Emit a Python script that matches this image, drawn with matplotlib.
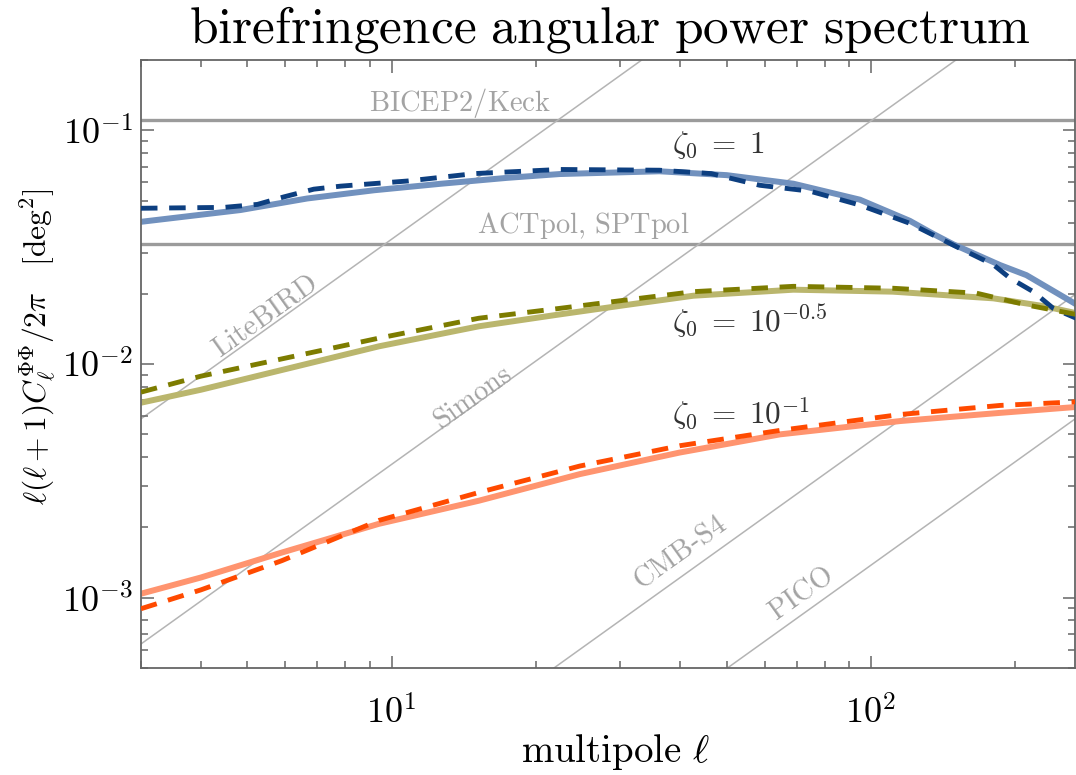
import numpy as np
import matplotlib
matplotlib.use("Agg")
import matplotlib.pyplot as plt
from matplotlib import ticker

plt.rcParams['mathtext.fontset'] = 'cm'
plt.rcParams['font.family'] = ['DejaVu Serif']

# ---- data ----
ell_blue_solid = [3, 4.84, 6.67, 9.19, 12.7, 17.4, 22.4, 36.2, 50, 68.9, 94.8, 120.5, 135, 148.6, 186, 211, 268]
cl_blue_solid = [0.0406, 0.0456, 0.0511, 0.0554, 0.0591, 0.0626, 0.0650, 0.0668, 0.0643, 0.0591, 0.0505,
                 0.0410, 0.0360, 0.0325, 0.0265, 0.0240, 0.0180]

ell_blue_dash = [3, 4.47, 5.25, 5.96, 6.88, 7.83, 10.8, 14.9, 22.4, 36.2, 46.4, 58.6, 74.6, 94.8, 120.5,
                 153, 180, 195, 218, 240, 268]
cl_blue_dash = [0.0464, 0.0468, 0.0482, 0.0519, 0.0560, 0.0577, 0.0607, 0.0653, 0.0680, 0.0675, 0.0653,
                0.0582, 0.0549, 0.0479, 0.0400, 0.0313, 0.0266, 0.0233, 0.0204, 0.0173, 0.0157]

ell_olive_solid = [3, 4.0, 9.4, 15.2, 22.4, 30.9, 42.6, 68.9, 111, 180, 229, 268]
cl_olive_solid = [0.00683, 0.00776, 0.0119, 0.0145, 0.0163, 0.0179, 0.0196, 0.0208, 0.0204, 0.0191, 0.0177,
                  0.0165]

ell_olive_dash = [3, 4.0, 9.4, 15.2, 22.4, 30.9, 42.6, 68.9, 111, 166, 211, 268]
cl_olive_dash = [0.00758, 0.00887, 0.0129, 0.0157, 0.0173, 0.0188, 0.0204, 0.0215, 0.0211, 0.0201, 0.0179,
                 0.0163]

ell_orange_solid = [3, 4.0, 5.9, 9.4, 15.2, 24.7, 39.9, 64.6, 115, 186, 268]
cl_orange_solid = [0.00104, 0.00122, 0.00156, 0.00207, 0.0026, 0.00338, 0.00418, 0.0050, 0.0057, 0.00618,
                   0.00655]

ell_orange_dash = [3, 4.0, 5.9, 9.4, 15.2, 24.7, 39.9, 64.6, 115, 186, 268]
cl_orange_dash = [0.000897, 0.00108, 0.00144, 0.00214, 0.00282, 0.00366, 0.00447, 0.0052, 0.00608, 0.00665,
                  0.00689]

# experimental limits
bicep_level = 0.111
act_level = 0.0325
# noise power laws: amplitude at ell = 10, slope in log-log
noise_names = ['LiteBIRD', 'Simons', 'CMB-S4', 'PICO']
noise_amp10 = [0.0342, 0.00372, 0.000159, 0.0000467]
noise_slope = 1.47

fig = plt.figure(figsize=(10.76, 7.75), dpi=100)
ax = fig.add_axes([0.131, 0.138, 0.8685, 0.7846])
ax.set_xscale('log')
ax.set_yscale('log')
ax.set_xlim(3, 267)
ax.set_ylim(5e-4, 0.2)

gray_h = '#9b9b9b'
gray_d = '#b4b4b4'
ax.axhline(bicep_level, color=gray_h, lw=2.4, zorder=1)
ax.axhline(act_level, color=gray_h, lw=2.4, zorder=1)

ll = np.logspace(np.log10(2), np.log10(400), 50)
for a in noise_amp10:
    ax.plot(ll, a * (ll / 10.0) ** noise_slope, color=gray_d, lw=1.1, zorder=1)

ds = (3.4, 2.4)
ax.plot(ell_blue_solid, cl_blue_solid, color='#7191be', lw=4.3, zorder=2)
ax.plot(ell_blue_dash, cl_blue_dash, color='#0d3f80', lw=3.5, dashes=ds, zorder=3)
ax.plot(ell_olive_solid, cl_olive_solid, color='#bab66d', lw=4.3, zorder=2)
ax.plot(ell_olive_dash, cl_olive_dash, color='#7d7c00', lw=3.5, dashes=ds, zorder=3)
ax.plot(ell_orange_solid, cl_orange_solid, color='#ff946f', lw=4.3, zorder=2)
ax.plot(ell_orange_dash, cl_orange_dash, color='#ff4a00', lw=3.5, dashes=ds, zorder=3)

lab_col = '#a3a3a3'
lfs = 20.5
ax.text(13.9, 0.131, r'$\mathrm{BICEP2/Keck}$', color=lab_col, fontsize=lfs, ha='center', va='center')
ax.text(25.1, 0.0392, r'$\mathrm{ACTpol,\,SPTpol}$', color=lab_col, fontsize=lfs, ha='center', va='center')
rot = 35.5
ax.text(5.46, 0.016, r'$\mathrm{LiteBIRD}$', color=lab_col, fontsize=lfs, ha='center', va='center', rotation=rot)
ax.text(14.8, 0.00715, r'$\mathrm{Simons}$', color=lab_col, fontsize=lfs, ha='center', va='center', rotation=rot)
ax.text(39.9, 0.00156, r'$\mathrm{CMB}$-$\mathrm{S4}$', color=lab_col, fontsize=lfs, ha='center', va='center', rotation=rot)
ax.text(71.5, 0.00104, r'$\mathrm{PICO}$', color=lab_col, fontsize=lfs, ha='center', va='center', rotation=rot)

txt_col = '#333333'
ax.text(38.5, 0.0865, r'$\zeta_0\;=\;1$', color=txt_col, fontsize=22.5, ha='left', va='center')
ax.text(38.5, 0.0152, r'$\zeta_0\;=\;10^{-0.5}$', color=txt_col, fontsize=22.5, ha='left', va='center')
ax.text(38.5, 0.0061, r'$\zeta_0\;=\;10^{-1}$', color=txt_col, fontsize=22.5, ha='left', va='center')

fig.text(0.567, 0.962, r'$\mathrm{birefringence\ angular\ power\ spectrum}$', fontsize=37,
         ha='center', va='center', color='black')
fig.text(0.5716, 0.03, r'$\mathrm{multipole}\ \ell$', fontsize=28, ha='center', va='center')
fig.text(0.035, 0.553, r'$\ell(\ell+1)C_\ell^{\Phi\Phi}/2\pi\quad[\mathrm{deg}^2]$', fontsize=22.7,
         ha='center', va='center', rotation=90)

spine_col = '#666666'
for s in ax.spines.values():
    s.set_color(spine_col)
    s.set_linewidth(1.3)

ax.xaxis.set_major_locator(ticker.FixedLocator([10, 100]))
ax.xaxis.set_major_formatter(ticker.FuncFormatter(lambda v, p: r'$10^{%d}$' % round(np.log10(v))))
ax.yaxis.set_major_locator(ticker.FixedLocator([1e-3, 1e-2, 1e-1]))
ax.yaxis.set_major_formatter(ticker.FuncFormatter(lambda v, p: r'$10^{%d}$' % round(np.log10(v))))
ax.xaxis.set_minor_locator(ticker.LogLocator(base=10, subs=np.arange(2, 10)))
ax.yaxis.set_minor_locator(ticker.LogLocator(base=10, subs=np.arange(2, 10)))
ax.xaxis.set_minor_formatter(ticker.NullFormatter())
ax.yaxis.set_minor_formatter(ticker.NullFormatter())
ax.tick_params(which='both', direction='in', top=True, right=True, color=spine_col, width=1.1)
ax.tick_params(which='major', length=9, labelsize=26)
ax.tick_params(which='minor', length=5)
ax.tick_params(axis='x', which='major', pad=20)
ax.tick_params(axis='y', which='major', pad=6)

fig.savefig('out.png', dpi=100)
